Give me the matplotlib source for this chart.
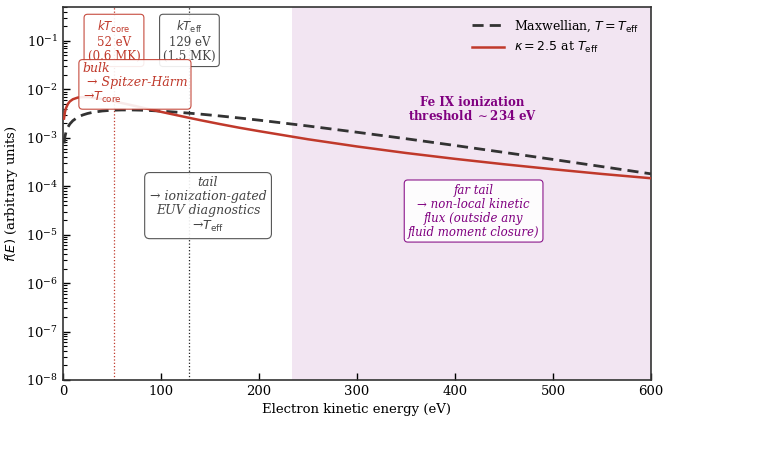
import numpy as np
import matplotlib
matplotlib.use("Agg")
import matplotlib.pyplot as plt

# values (arbitrary units)
energy_ev = [1, 2, 3, 5, 7, 10, 15, 20, 25, 30, 40, 50, 60, 70, 80, 90, 100,
             120, 140, 160, 180, 200, 250, 300, 350, 400, 450, 500, 550, 600]
maxwellian = [7.64e-4, 1.07e-3, 1.30e-3, 1.66e-3, 1.93e-3, 2.25e-3, 2.66e-3,
              2.95e-3, 3.17e-3, 3.34e-3, 3.57e-3, 3.70e-3, 3.75e-3, 3.75e-3,
              3.71e-3, 3.64e-3, 3.55e-3, 3.33e-3, 3.08e-3, 2.82e-3, 2.56e-3,
              2.31e-3, 1.75e-3, 1.30e-3, 9.56e-4, 6.93e-4, 4.99e-4, 3.57e-4,
              2.54e-4, 1.80e-4]
kappa = [2.49e-3, 3.43e-3, 4.09e-3, 5.01e-3, 5.63e-3, 6.23e-3, 6.75e-3,
         6.91e-3, 6.88e-3, 6.74e-3, 6.29e-3, 5.75e-3, 5.21e-3, 4.70e-3,
         4.23e-3, 3.81e-3, 3.43e-3, 2.81e-3, 2.31e-3, 1.92e-3, 1.61e-3,
         1.37e-3, 9.31e-4, 6.61e-4, 4.85e-4, 3.67e-4, 2.84e-4, 2.24e-4,
         1.79e-4, 1.46e-4]

kT_core = 52
kT_eff = 129
fe9_threshold = 234
e_max = 600

RED = "#c0392b"
GREY = "#444444"
PURPLE = "#800080"

plt.rcParams["font.family"] = "DejaVu Serif"
plt.rcParams["font.size"] = 10

fig = plt.figure(figsize=(7.81, 4.5), dpi=100)
ax = fig.add_axes([0.0807, 0.1556, 0.7528, 0.8288])

ax.axvspan(fe9_threshold, e_max, color="purple", alpha=0.1, lw=0, zorder=0)
ax.axvline(kT_core, color=RED, ls=":", lw=0.9, zorder=1)
ax.axvline(kT_eff, color="#222222", ls=":", lw=0.9, zorder=1)

ax.plot(energy_ev, maxwellian, color="#333333", ls="--", lw=2, dashes=(4, 2.2),
        label=r"Maxwellian, $T = T_{\rm eff}$", zorder=3)
ax.plot(energy_ev, kappa, color=RED, lw=1.8,
        label=r"$\kappa = 2.5$ at $T_{\rm eff}$", zorder=3)

ax.set_yscale("log")
ax.set_xlim(0, e_max)
ax.set_ylim(1e-8, 0.5)
ax.set_xlabel("Electron kinetic energy (eV)", fontsize=9.5)
ax.set_ylabel(r"$f(E)$ (arbitrary units)", fontsize=9.5)

ax.tick_params(which="both", direction="in", top=False, right=False, labelsize=9.5)
ax.tick_params(which="major", length=5, width=1)
ax.tick_params(which="minor", length=3, width=0.8)
for sp in ax.spines.values():
    sp.set_color("#333333")
    sp.set_linewidth(1.2)

ax.legend(loc="upper right", frameon=False, fontsize=9, handlelength=2.6)

# temperature markers
ax.text(kT_core, 0.909, "$kT_{\\rm core}$\n52 eV\n(0.6 MK)", transform=ax.get_xaxis_transform(),
        ha="center", va="center", fontsize=8.5, color=RED, linespacing=1.1,
        bbox=dict(boxstyle="round,pad=0.3", fc="white", ec=RED, alpha=0.9, lw=0.8), zorder=5)
ax.text(kT_eff, 0.909, "$kT_{\\rm eff}$\n129 eV\n(1.5 MK)", transform=ax.get_xaxis_transform(),
        ha="center", va="center", fontsize=8.5, color=GREY, linespacing=1.1,
        bbox=dict(boxstyle="round,pad=0.3", fc="white", ec=GREY, alpha=0.9, lw=0.8), zorder=5)

# regime labels
ax.text(20, 0.794, "bulk\n \u2192 Spitzer-H\u00e4rm\n\u2192$T_{\\rm core}$", transform=ax.get_xaxis_transform(),
        ha="left", va="center", fontsize=9, style="italic", color=RED, linespacing=1.1,
        bbox=dict(boxstyle="round,pad=0.3", fc="white", ec=RED, alpha=0.9, lw=0.8), zorder=5)
ax.text(148, 0.469, "tail\n\u2192 ionization-gated\nEUV diagnostics\n\u2192$T_{\\rm eff}$",
        transform=ax.get_xaxis_transform(),
        ha="center", va="center", fontsize=9, style="italic", color=GREY, linespacing=1.1,
        bbox=dict(boxstyle="round,pad=0.4", fc="white", ec=GREY, alpha=0.9, lw=0.8), zorder=5)
ax.text(419, 0.453, "far tail\n\u2192 non-local kinetic\nflux (outside any\nfluid moment closure)",
        transform=ax.get_xaxis_transform(),
        ha="center", va="center", fontsize=8.5, style="italic", color=PURPLE, linespacing=1.1,
        bbox=dict(boxstyle="round,pad=0.3", fc="white", ec=PURPLE, alpha=0.9, lw=0.8), zorder=5)
ax.text(418, 0.724, "Fe IX ionization\nthreshold $\\sim$234 eV", transform=ax.get_xaxis_transform(),
        ha="center", va="center", fontsize=8.5, fontweight="bold", color=PURPLE, linespacing=1.0)

fig.savefig("out.png", dpi=100)
